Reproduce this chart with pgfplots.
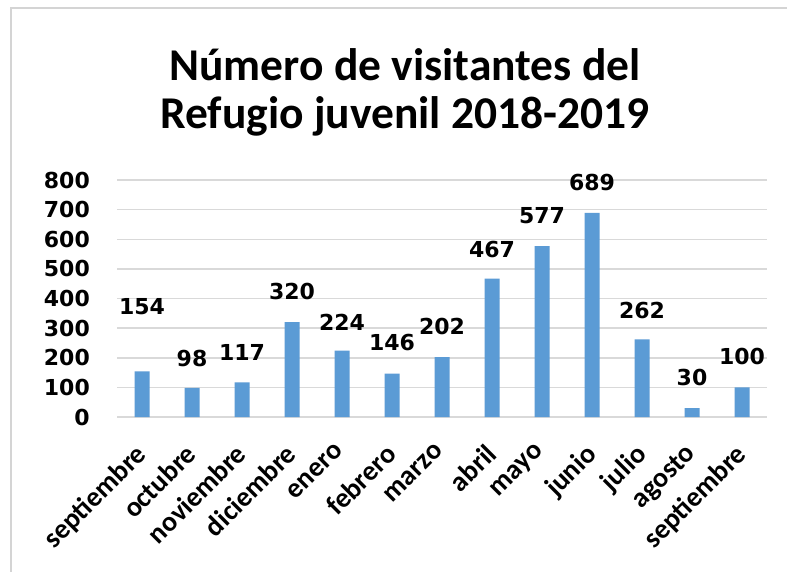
\documentclass[border=0pt]{standalone}
\usepackage{fontspec}
\setmainfont{Carlito}
\newfontfamily\dejavu{DejaVu Sans}
\usepackage{pgfplots}
\usepackage{pgfplotstable}
\pgfplotsset{compat=1.18}
\definecolor{barblue}{HTML}{5B9BD5}
\definecolor{gridgray}{HTML}{D9D9D9}
\definecolor{framegray}{HTML}{D4D4D4}
\pgfplotstableread{
x y
0 154
1 98
2 117
3 320
4 224
5 146
6 202
7 467
8 577
9 689
10 262
11 30
12 100
}\bars
\pgfplotstableread{
x y lab
0 371 154
1 196 98
2 219 117
3 422 320
4 321 224
5 253 146
6 304 202
7 567 467
8 679 577
9 793 689
10 358 262
11 135 30
12 203 100
}\labs
\begin{document}
\begin{tikzpicture}
\path[use as bounding box] (0,0) rectangle (787bp,572bp);
\fill[white] (0,0) rectangle (787bp,572bp);
\draw[framegray, line width=2bp] (11bp,0) -- (11bp,564bp) -- (787bp,564bp);
\node[align=center, font=\bfseries\fontsize{45.5bp}{48bp}\selectfont] at (405bp,480bp) {Número de visitantes del\\Refugio juvenil 2018-2019};
\begin{axis}[
  at={(117bp,155bp)}, anchor=south west,
  scale only axis, width=650bp, height=237bp,
  xmin=-0.5, xmax=12.5, ymin=0, ymax=800,
  ytick={0,100,...,800},
  xtick={0,...,12},
  xticklabels={septiembre,octubre,noviembre,diciembre,enero,febrero,marzo,abril,mayo,junio,julio,agosto,septiembre},
  axis line style={draw=none},
  tick style={draw=none},
  ymajorgrids, grid style={gridgray, line width=1.5bp},
  /pgf/number format/assume math mode=true,
  yticklabel style={font=\dejavu\bfseries\fontsize{22bp}{22bp}\selectfont, inner sep=0pt, anchor=east, xshift=-27bp},
  xticklabel style={font=\bfseries\fontsize{28bp}{28bp}\selectfont, xshift=-8bp, yshift=-25bp, rotate=45, anchor=north east, inner sep=0pt},
  clip=false,
]
\addplot[ybar, bar width=15bp, fill=barblue, draw=none] table[x=x,y=y] {\bars};
\addplot[draw=none, mark=none, nodes near coords, point meta=explicit symbolic,
  nodes near coords style={anchor=center, font=\dejavu\bfseries\fontsize{22bp}{22bp}\selectfont, inner sep=0pt}]
  table[x=x,y=y,meta=lab] {\labs};
\end{axis}
\end{tikzpicture}
\end{document}
